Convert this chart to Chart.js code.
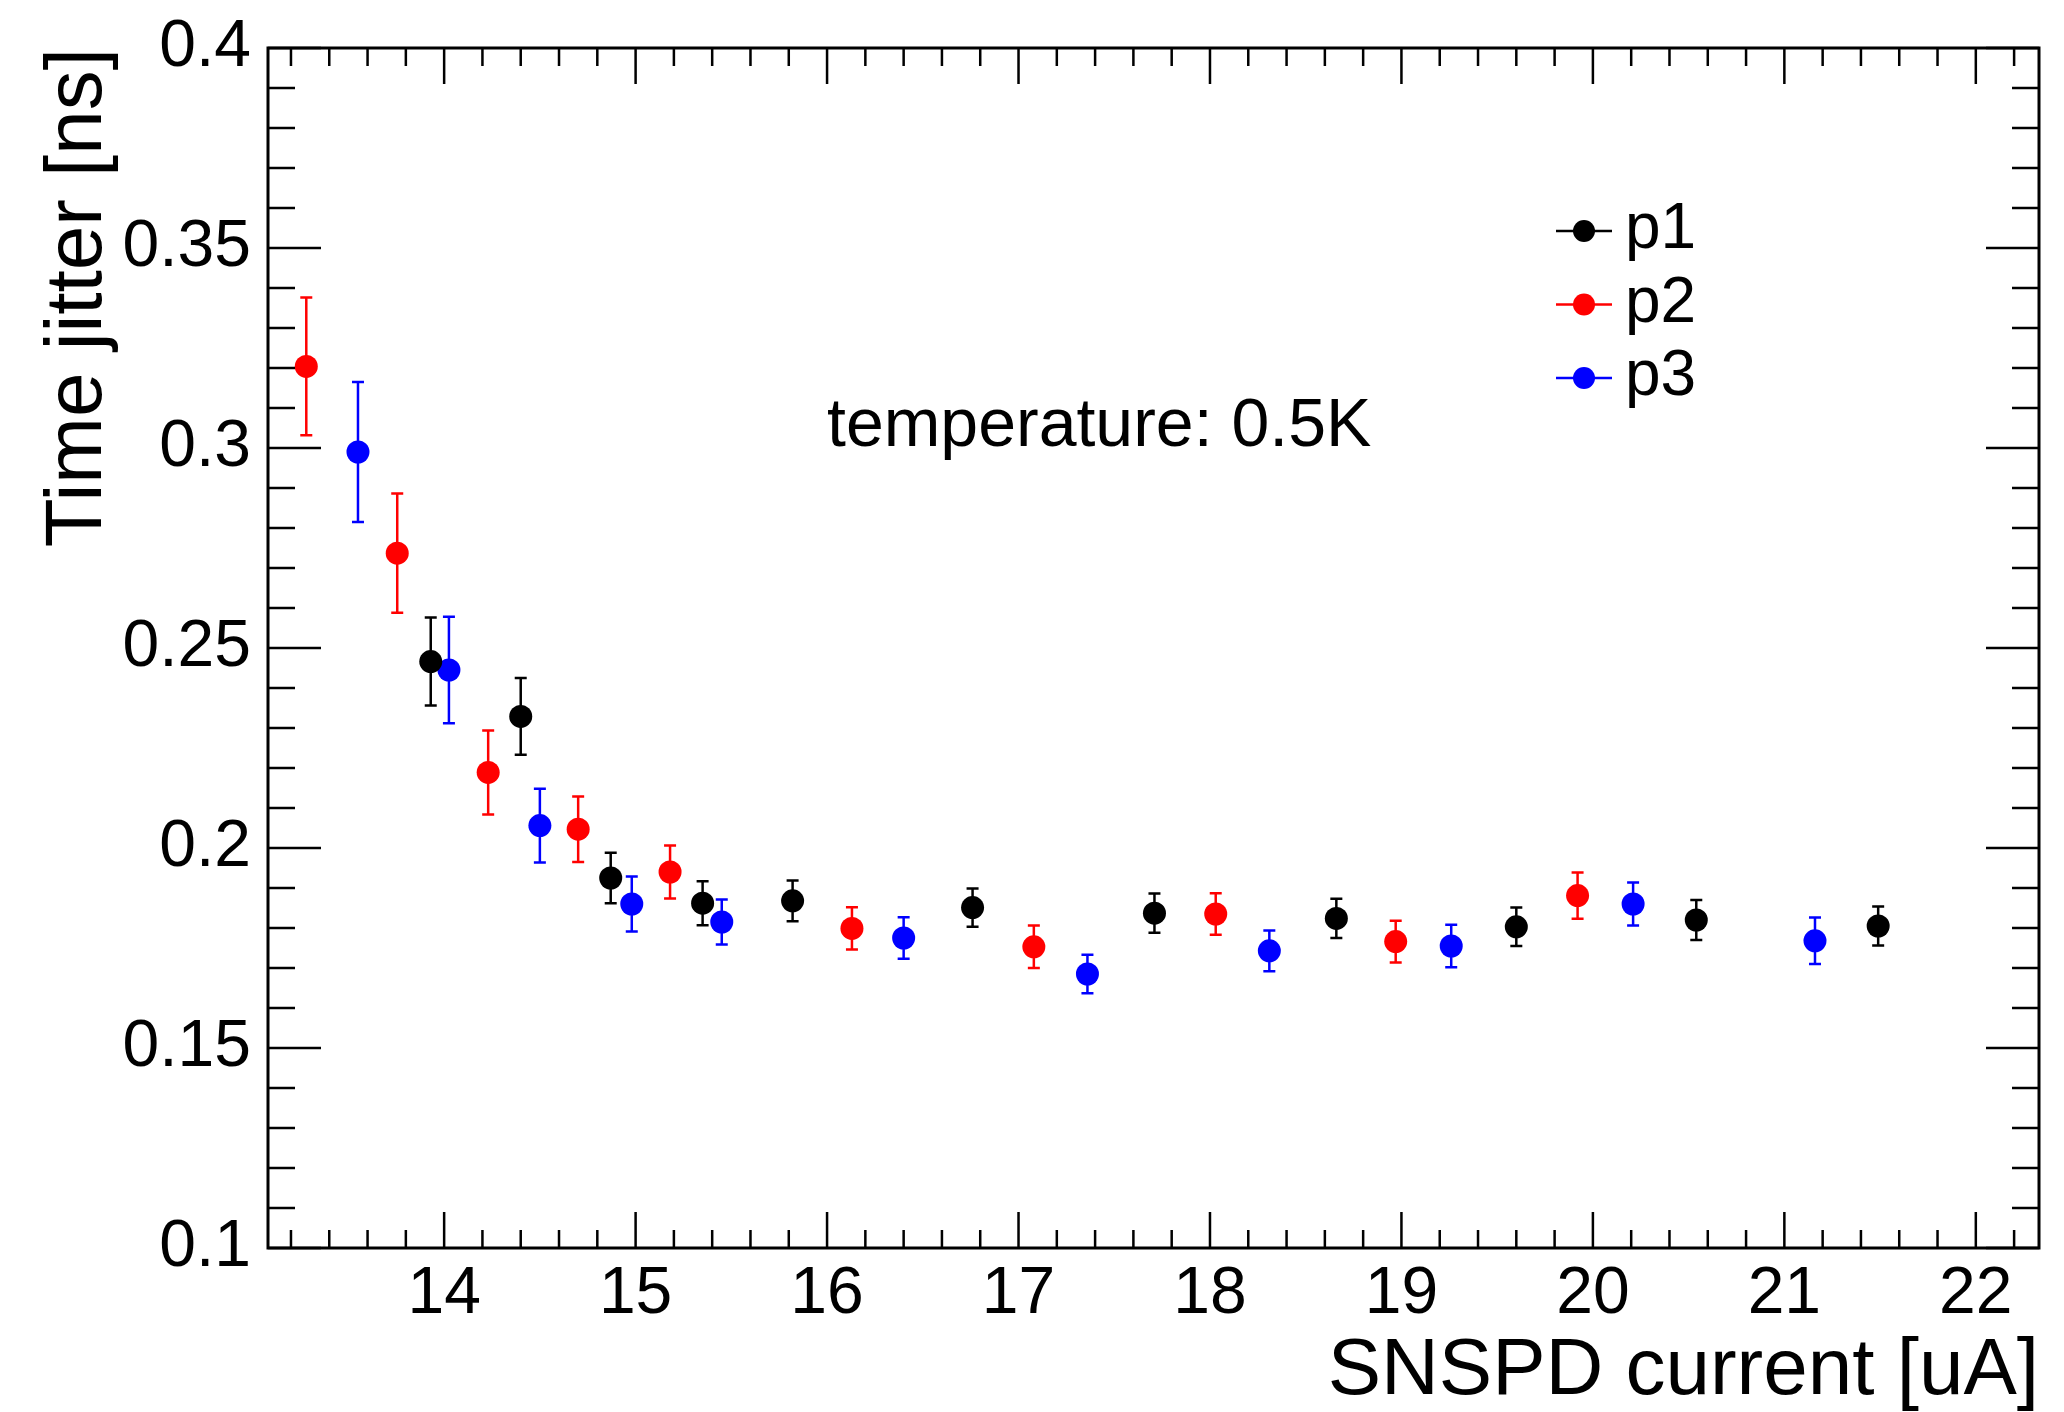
<!DOCTYPE html>
<html>
<head>
<meta charset="utf-8">
<title>Time jitter vs SNSPD current</title>
<script src="https://cdn.jsdelivr.net/npm/chart.js@4.4.1/dist/chart.umd.min.js"></script>
<style>
  html, body { margin: 0; padding: 0; background: #fff; }
  #wrap { width: 2064px; height: 1412px; }
</style>
</head>
<body>
<div id="wrap"><canvas id="jitterChart"></canvas></div>
<script>
// Data
const p1X = [13.93, 14.40, 14.87, 15.35, 15.82, 16.76, 17.71, 18.66, 19.60, 20.54, 21.49];
const p1Y = [0.2466, 0.2329, 0.1925, 0.1862, 0.1868, 0.1851, 0.1837, 0.1824, 0.1803, 0.1820, 0.1805];
const p1Err = [0.0110, 0.0096, 0.0063, 0.0055, 0.0051, 0.0048, 0.0049, 0.0049, 0.0048, 0.0050, 0.0049];

const p2X = [13.28, 13.755, 14.23, 14.70, 15.18, 16.13, 17.08, 18.03, 18.97, 19.92];
const p2Y = [0.3204, 0.2737, 0.2189, 0.2047, 0.1940, 0.1799, 0.1753, 0.1835, 0.1766, 0.1881];
const p2Err = [0.0172, 0.0149, 0.0105, 0.0082, 0.0066, 0.0053, 0.0053, 0.0052, 0.0052, 0.0058];

const p3X = [13.55, 14.025, 14.50, 14.98, 15.45, 16.40, 17.36, 18.31, 19.26, 20.21, 21.16];
const p3Y = [0.2990, 0.2445, 0.2056, 0.1860, 0.1815, 0.1775, 0.1685, 0.1743, 0.1755, 0.1860, 0.1768];
const p3Err = [0.0175, 0.0133, 0.0092, 0.0069, 0.0056, 0.0052, 0.0048, 0.0051, 0.0053, 0.0054, 0.0058];

const seriesNames = ["p1", "p2", "p3"];
const seriesColors = ["#000000", "#ff0000", "#0000ff"];

const xTicks = [14, 15, 16, 17, 18, 19, 20, 21, 22];
const yTicks = [0.1, 0.15, 0.2, 0.25, 0.3, 0.35, 0.4];
const yTickLabels = ["0.1", "0.15", "0.2", "0.25", "0.3", "0.35", "0.4"];

const xRange = [13.08, 22.33];
const yRange = [0.1, 0.4];

const noteText = "temperature: 0.5K";

const FONT = "'Liberation Sans', Arial, Helvetica, sans-serif";

function makePoints(xs, ys, errs) {
  return xs.map((x, i) => ({ x: x, y: ys[i], err: errs[i] }));
}

// Error bars, drawn under the markers
const errorBars = {
  id: "errorBars",
  beforeDatasetsDraw(chart) {
    const { ctx, scales: { x, y } } = chart;
    chart.data.datasets.forEach((ds) => {
      ctx.save();
      ctx.strokeStyle = ds.backgroundColor;
      ctx.lineWidth = 2.5;
      ds.data.forEach((p) => {
        const px = x.getPixelForValue(p.x);
        const top = y.getPixelForValue(p.y + p.err);
        const bot = y.getPixelForValue(p.y - p.err);
        ctx.beginPath();
        ctx.moveTo(px, top);
        ctx.lineTo(px, bot);
        ctx.moveTo(px - 6, top);
        ctx.lineTo(px + 6, top);
        ctx.moveTo(px - 6, bot);
        ctx.lineTo(px + 6, bot);
        ctx.stroke();
      });
      ctx.restore();
    });
  },
};

// ROOT style frame with inward ticks on all four sides
const frameTicks = {
  id: "frameTicks",
  afterDraw(chart) {
    const { ctx, chartArea: a, scales: { x, y } } = chart;
    const xMajor = 36, xMinor = 18, yMajor = 53, yMinor = 27;
    ctx.save();
    ctx.strokeStyle = "#000";
    ctx.lineWidth = 2.5;
    ctx.beginPath();

    xTicks.forEach((v) => {
      const px = x.getPixelForValue(v);
      ctx.moveTo(px, a.bottom); ctx.lineTo(px, a.bottom - xMajor);
      ctx.moveTo(px, a.top); ctx.lineTo(px, a.top + xMajor);
    });
    for (let i = Math.ceil(xRange[0] / 0.2 - 1e-6); i * 0.2 <= xRange[1] + 1e-6; i++) {
      const px = x.getPixelForValue(i * 0.2);
      ctx.moveTo(px, a.bottom); ctx.lineTo(px, a.bottom - xMinor);
      ctx.moveTo(px, a.top); ctx.lineTo(px, a.top + xMinor);
    }

    yTicks.forEach((v) => {
      const py = y.getPixelForValue(v);
      ctx.moveTo(a.left, py); ctx.lineTo(a.left + yMajor, py);
      ctx.moveTo(a.right, py); ctx.lineTo(a.right - yMajor, py);
    });
    for (let i = Math.ceil(yRange[0] / 0.01 - 1e-6); i * 0.01 <= yRange[1] + 1e-6; i++) {
      const py = y.getPixelForValue(i * 0.01);
      ctx.moveTo(a.left, py); ctx.lineTo(a.left + yMinor, py);
      ctx.moveTo(a.right, py); ctx.lineTo(a.right - yMinor, py);
    }
    ctx.stroke();

    ctx.lineWidth = 3;
    ctx.strokeRect(a.left, a.top, a.right - a.left, a.bottom - a.top);
    ctx.restore();
  },
};

// Legend box inside the frame + temperature note
const insideText = {
  id: "insideText",
  afterDraw(chart) {
    const { ctx } = chart;
    ctx.save();
    ctx.font = "64px " + FONT;
    ctx.textBaseline = "alphabetic";
    ctx.textAlign = "left";
    chart.data.datasets.forEach((ds, i) => {
      const rowY = 231 + i * 73.5;
      ctx.strokeStyle = ds.backgroundColor;
      ctx.lineWidth = 2.5;
      ctx.beginPath();
      ctx.moveTo(1556, rowY);
      ctx.lineTo(1612, rowY);
      ctx.stroke();
      ctx.fillStyle = ds.backgroundColor;
      ctx.beginPath();
      ctx.arc(1584, rowY, 11, 0, Math.PI * 2);
      ctx.fill();
      ctx.fillStyle = "#000";
      ctx.fillText(ds.label, 1625, rowY + 17);
    });

    ctx.font = "68px " + FONT;
    ctx.fillStyle = "#000";
    ctx.fillText(noteText, 827, 446);
    ctx.restore();
  },
};

// Chart.js
Chart.defaults.font.family = FONT;
Chart.defaults.color = "#000";

const ctx = document.getElementById("jitterChart").getContext("2d");
const chart = new Chart(ctx, {
  type: "scatter",
  data: {
    datasets: [
      { label: seriesNames[0], data: makePoints(p1X, p1Y, p1Err), backgroundColor: seriesColors[0] },
      { label: seriesNames[1], data: makePoints(p2X, p2Y, p2Err), backgroundColor: seriesColors[1] },
      { label: seriesNames[2], data: makePoints(p3X, p3Y, p3Err), backgroundColor: seriesColors[2] },
    ].map((ds) => ({
      ...ds,
      borderColor: ds.backgroundColor,
      pointRadius: 11.5,
      pointBorderWidth: 0,
      pointHoverRadius: 11.5,
      showLine: false,
    })),
  },
  options: {
    responsive: true,
    maintainAspectRatio: false,
    animation: false,
    layout: { padding: { top: 48, right: 25, bottom: 0, left: 0 } },
    plugins: {
      legend: { display: false },
      tooltip: { enabled: false },
    },
    scales: {
      x: {
        type: "linear",
        min: xRange[0],
        max: xRange[1],
        afterBuildTicks: (s) => { s.ticks = xTicks.map((v) => ({ value: v })); },
        afterFit: (s) => {
          s.height = 164;
          s.paddingLeft = 0;
          s.paddingRight = 0;
        },
        grid: { display: false, drawTicks: false },
        border: { display: false },
        ticks: {
          padding: 7,
          autoSkip: false,
          maxRotation: 0,
          font: { size: 66 },
          color: "#000",
          callback: (v) => String(v),
        },
        title: {
          display: true,
          text: "SNSPD current [uA]",
          align: "end",
          color: "#000",
          font: { size: 80, lineHeight: 1 },
          padding: { top: 0, bottom: 0 },
        },
      },
      y: {
        type: "linear",
        min: yRange[0],
        max: yRange[1],
        afterBuildTicks: (s) => { s.ticks = yTicks.map((v) => ({ value: v })); },
        afterFit: (s) => {
          s.width = 268;
          s.paddingTop = 0;
          s.paddingBottom = 0;
        },
        grid: { display: false, drawTicks: false },
        border: { display: false },
        ticks: {
          padding: 17,
          autoSkip: false,
          font: { size: 66 },
          color: "#000",
          callback: (v, i) => yTickLabels[i],
        },
        title: {
          display: true,
          text: "Time jitter [ns]",
          align: "end",
          color: "#000",
          font: { size: 80, lineHeight: 1 },
          padding: { top: 39, bottom: 0 },
        },
      },
    },
  },
  plugins: [errorBars, frameTicks, insideText],
});
</script>
</body>
</html>
